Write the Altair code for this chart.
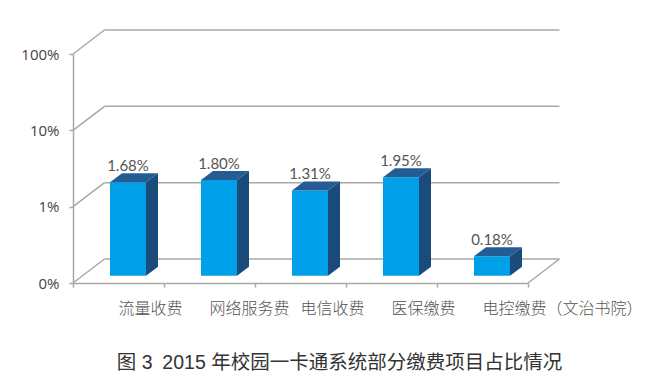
import altair as alt
import pandas as pd

categories = ["流量收费", "网络服务费", "电信收费", "医保缴费", "电控缴费（文治书院）"]
values = [1.68, 1.80, 1.31, 1.95, 0.18]
value_labels = ["1.68%", "1.80%", "1.31%", "1.95%", "0.18%"]
y_ticks = [0.1, 1, 10, 100]
x_ticks = [0, 1, 2, 3, 4, 5]
title_text = "图 3\u20022015 年校园一卡通系统部分缴费项目占比情况"

PX_X = 91.0
PX_DEC = 229 / 3
dec = lambda px: 10 ** (px / PX_DEC)

wall_dx, wall_f = 31.5 / PX_X, dec(24)
bar_dx, bar_f = 12 / PX_X, dec(9)
base_f = dec(7.3)
bar_l, bar_w = 0.4066, 0.3956
GRID = "#a9a9a4"

xs = alt.Scale(domain=[0, 5], nice=False, zero=False)
ys = alt.Scale(type="log", domain=[0.1, 100], nice=False)

back = pd.DataFrame({"x": [wall_dx] * 4, "x2": [5 + wall_dx] * 4,
                     "y": [v * wall_f for v in y_ticks]})
diag = pd.DataFrame({"x": [0] * 4 + [5], "x2": [wall_dx] * 4 + [5 + wall_dx],
                     "y": y_ticks + [0.1], "y2": [v * wall_f for v in y_ticks] + [0.1 * wall_f]})
back_l = alt.Chart(back).mark_rule(color=GRID, strokeWidth=1.5).encode(
    x=alt.X("x:Q", scale=xs,
            axis=alt.Axis(values=x_ticks, labels=False, title=None, grid=False, tickSize=4,
                          tickColor=GRID, domainColor=GRID, tickWidth=1.5, domainWidth=1.5)),
    x2="x2:Q",
    y=alt.Y("y:Q", scale=ys,
            axis=alt.Axis(values=y_ticks, labelExpr="datum.value < 1 ? '0%' : datum.value + '%'",
                          title=None, grid=False, tickSize=4, tickColor=GRID, domainColor=GRID,
                          tickWidth=1.5, domainWidth=1.5, labelFont="Open Sans", labelFontSize=15,
                          labelColor="#444444", labelPadding=10)),
)
diag_l = alt.Chart(diag).mark_rule(color=GRID, strokeWidth=1.5).encode(
    x=alt.X("x:Q", scale=xs), x2="x2:Q", y=alt.Y("y:Q", scale=ys), y2="y2:Q")

rows_front = []
faces = []
for i, v in enumerate(values):
    l = i + bar_l
    r = l + bar_w
    base = 0.1 * base_f
    top = v * base_f
    rows_front.append({"l": l, "r": r, "b": base, "t": top, "lab": value_labels[i],
                       "cx": (l + r) / 2, "ly": top * bar_f})
    side = pd.DataFrame({"px": [r, r + bar_dx], "hi": [top, top * bar_f], "lo": [base, base * bar_f]})
    cap = pd.DataFrame({"px": [l, l + bar_dx, r, r + bar_dx],
                        "hi": [top, top * bar_f, top * bar_f, top * bar_f],
                        "lo": [top, top, top, top * bar_f]})
    for d, col in ((side, "#1b4b7b"), (cap, "#265c94")):
        faces.append(alt.Chart(d).mark_area(color=col, line=False, orient="vertical").encode(
            x=alt.X("px:Q", scale=xs),
            y=alt.Y("hi:Q", scale=ys),
            y2=alt.Y2("lo:Q")))
front = pd.DataFrame(rows_front)

front_l = alt.Chart(front).mark_rect(color="#00a0e9").encode(
    x=alt.X("l:Q", scale=xs), x2="r:Q", y=alt.Y("b:Q", scale=ys), y2="t:Q")
val_l = alt.Chart(front).mark_text(font="Lato", fontSize=15, fontWeight=400, color="#555555",
                                   baseline="bottom", dy=1).encode(
    x=alt.X("cx:Q", scale=xs), y=alt.Y("ly:Q", scale=ys), text="lab:N")

cat_df = pd.DataFrame({"x": [i + 0.5 for i in range(5)], "y": [0.1] * 5, "c": categories})
cat_l = alt.Chart(cat_df).mark_text(font="Noto Sans CJK SC", fontSize=16, fontWeight=300, color="#555555",
                                    align="left", baseline="middle", dy=26).encode(
    x=alt.X("x:Q", scale=xs), y=alt.Y("y:Q", scale=ys), text="c:N")

chart = alt.layer(back_l, diag_l, front_l, *faces, val_l, cat_l).properties(
    width=455, height=229,
    padding={"left": 65, "top": 46, "right": 123, "bottom": 92},
    autosize=alt.AutoSizeParams(type="none"),
    title=alt.TitleParams(title_text, orient="bottom", anchor="middle", dx=39, offset=37,
                          font="Liberation Sans, Noto Sans CJK SC", fontSize=19.5, fontWeight=400,
                          color="#333333"),
).configure_view(stroke=None).configure_axis(domain=True)

chart.save("out.html", embed_options={"renderer": "svg", "actions": False})
